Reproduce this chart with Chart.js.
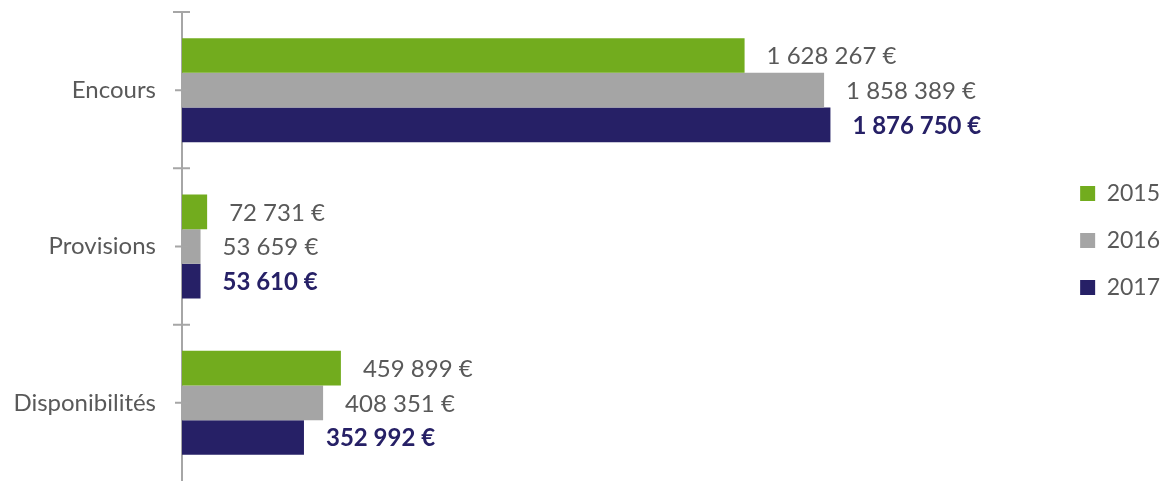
<!DOCTYPE html>
<html>
<head>
<meta charset="utf-8">
<script src="https://cdn.jsdelivr.net/npm/chart.js@4.4.1/dist/chart.umd.min.js"></script>
<style>
    html, body { margin: 0; padding: 0; background: #ffffff; }
    #wrap { width: 1162px; height: 481px; }
</style>
</head>
<body>
<div id="wrap"><canvas id="chart-area" width="1162" height="481"></canvas></div>
<script>
// data
var categories = ['Encours', 'Provisions', 'Disponibilités'];
var years = ['2015', '2016', '2017'];
var values2015 = [1628267, 72731, 459899];
var values2016 = [1858389, 53659, 408351];
var values2017 = [1876750, 53610, 352992];

// set color
var colors = {
    green: '#72ac1e',
    grey: '#a5a5a5',
    navy: '#262066',
    text: '#595959',
    axis: '#a6a6a6'
};

function formatEuro(v) {
    return String(v).replace(/\B(?=(\d{3})+(?!\d))/g, ' ') + ' €';
}

// value labels right of each bar
var valueLabels = {
    id: 'valueLabels',
    afterDatasetsDraw: function (chart) {
        var ctx = chart.ctx;
        ctx.save();
        ctx.textAlign = 'left';
        ctx.textBaseline = 'middle';
        chart.data.datasets.forEach(function (ds, i) {
            var meta = chart.getDatasetMeta(i);
            var last = i === chart.data.datasets.length - 1;
            ctx.font = (last ? 'bold ' : '') + '24px Lato';
            ctx.fillStyle = last ? colors.navy : colors.text;
            meta.data.forEach(function (bar, j) {
                ctx.fillText(formatEuro(ds.data[j]), bar.x + 22, bar.y + 1);
            });
        });
        ctx.restore();
    }
};

// tick marks on the category axis
var axisMarks = {
    id: 'axisMarks',
    afterDraw: function (chart) {
        var ctx = chart.ctx;
        var y = chart.scales.y;
        var x0 = chart.chartArea.left;
        var half = (y.getPixelForValue(1) - y.getPixelForValue(0)) / 2;
        ctx.save();
        ctx.strokeStyle = colors.axis;
        ctx.lineWidth = 2;
        ctx.beginPath();
        for (var i = 0; i < categories.length; i++) {
            var c = y.getPixelForValue(i);
            ctx.moveTo(x0 - 7, c);
            ctx.lineTo(x0 + 6, c);
            ctx.moveTo(x0 - 9, c - half);
            ctx.lineTo(x0 + 8, c - half);
        }
        ctx.stroke();
        ctx.restore();
    }
};

window.onload = function () {
    Chart.defaults.font.family = 'Lato';
    Chart.defaults.color = colors.text;
    var ctx = document.getElementById('chart-area').getContext('2d');
    var config = {
        type: 'bar',
        data: {
            labels: categories,
            datasets: [
                { label: years[0], data: values2015, backgroundColor: colors.green },
                { label: years[1], data: values2016, backgroundColor: colors.grey },
                { label: years[2], data: values2017, backgroundColor: colors.navy }
            ]
        },
        options: {
            indexAxis: 'y',
            responsive: false,
            animation: false,
            categoryPercentage: 0.665,
            barPercentage: 1.0,
            layout: { padding: { top: 0, bottom: 0, left: 0, right: -8 } },
            scales: {
                x: {
                    display: false,
                    min: 0,
                    max: 2530000
                },
                y: {
                    grid: { display: false },
                    border: { display: true, color: colors.axis, width: 2 },
                    ticks: { padding: 18, font: { size: 24 }, color: colors.text },
                    afterFit: function (scale) {
                        scale.width = 182;
                        scale.paddingTop = 12;
                        scale.paddingBottom = 0;
                    }
                }
            },
            plugins: {
                legend: {
                    position: 'right',
                    labels: {
                        boxWidth: 15,
                        boxHeight: 15,
                        padding: 24,
                        font: { size: 23 },
                        color: colors.text
                    }
                },
                tooltip: { enabled: false }
            }
        },
        plugins: [valueLabels, axisMarks]
    };
    window.myBar = new Chart(ctx, config);
};
</script>
</body>
</html>
